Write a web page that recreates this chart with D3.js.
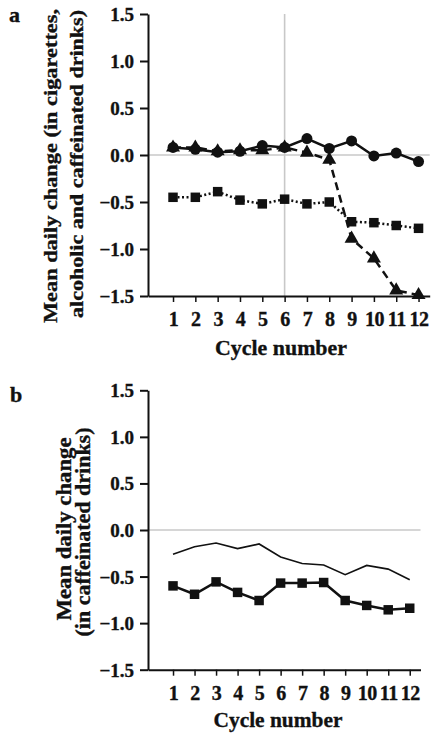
<!DOCTYPE html>
<html><head><meta charset="utf-8">
<script src="https://cdn.jsdelivr.net/npm/d3@7"></script>
<style>
body{margin:0;background:#fff;}
svg text{font-family:"Liberation Serif","Times New Roman",serif;font-weight:bold;fill:#111;stroke:#111;stroke-width:0.35px;}
</style></head>
<body><svg id="c" width="443" height="744"></svg>
<script>
const cycles = [1,2,3,4,5,6,7,8,9,10,11,12];
const yTicks = [-1.5,-1.0,-0.5,0.0,0.5,1.0,1.5];
// Panel a
const aCircles   = [0.08,0.06,0.03,0.04,0.10,0.08,0.175,0.07,0.15,-0.01,0.02,-0.07];
const aTriangles = [0.08,0.08,0.04,0.05,0.05,0.08,0.025,-0.05,-0.89,-1.10,-1.44,-1.49];
const aSquares   = [-0.45,-0.45,-0.39,-0.48,-0.52,-0.47,-0.52,-0.50,-0.71,-0.72,-0.75,-0.78];
// Panel b
const bLine    = [-0.26,-0.18,-0.14,-0.20,-0.15,-0.29,-0.36,-0.375,-0.48,-0.38,-0.42,-0.535];
const bSquares = [-0.60,-0.69,-0.557,-0.67,-0.757,-0.57,-0.57,-0.564,-0.757,-0.81,-0.857,-0.84];

const svg = d3.select("#c");

function panel(cfg){
  const g = svg.append("g");
  const x = d3.scaleLinear().domain(cfg.xDomain).range([148, cfg.xEnd]);
  const y = d3.scaleLinear().domain([-1.5,1.5]).range([cfg.yBottom, cfg.yTop]);
  // gray reference lines
  g.append("line").attr("x1",x.range()[0]).attr("x2",x.range()[1])
    .attr("y1",y(0)).attr("y2",y(0)).attr("stroke","#c8c8c8").attr("stroke-width",1.6);
  if(cfg.vline){
    g.append("line").attr("x1",x(cfg.vline)).attr("x2",x(cfg.vline))
      .attr("y1",y(1.5)).attr("y2",y(-1.5)).attr("stroke","#c8c8c8").attr("stroke-width",1.6);
  }
  // y axis
  const ya = g.append("g").attr("transform",`translate(148,0)`)
    .call(d3.axisLeft(y).tickValues(yTicks).tickFormat(d3.format(".1f")).tickSize(8).tickSizeOuter(0).tickPadding(6));
  ya.select(".domain").attr("stroke","#111").attr("stroke-width",2);
  ya.selectAll(".tick line").attr("stroke","#111").attr("stroke-width",2);
  ya.selectAll(".tick text").attr("font-size",19).attr("fill","#111")
    .attr("font-family","Liberation Serif").attr("font-weight","bold").attr("dy","0.34em");
  // x axis
  const xa = g.append("g").attr("transform",`translate(0,${cfg.yBottom})`)
    .call(d3.axisBottom(x).tickValues(cycles).tickFormat(d3.format("d")).tickSize(6).tickSizeOuter(0).tickPadding(10));
  xa.select(".domain").attr("stroke","#111").attr("stroke-width",2);
  xa.selectAll(".tick line").attr("stroke","#111").attr("stroke-width",1.5);
  xa.selectAll(".tick text").attr("font-size",20).attr("fill","#111")
    .attr("font-family","Liberation Serif").attr("font-weight","bold").attr("letter-spacing","-0.5px");
  // series
  cfg.series.forEach(s=>{
    const line = d3.line().x((d,i)=>x(cycles[i])).y(d=>y(d));
    g.append("path").attr("d",line(s.values)).attr("fill","none").attr("stroke","#111")
      .attr("stroke-width",s.width).attr("stroke-dasharray",s.dash||null);
    if(s.marker){
      const sym = {circle:d3.symbolCircle,square:d3.symbolSquare,triangle:d3.symbolTriangle}[s.marker];
      g.selectAll(null).data(s.values).enter().append("path")
        .attr("d",d3.symbol().type(sym).size(s.size))
        .attr("transform",(d,i)=>`translate(${x(cycles[i])},${y(d)})`)
        .attr("fill","#111");
    }
  });
  // x title
  g.append("text").attr("x",cfg.xTitleX).attr("y",cfg.xTitleY).attr("text-anchor","middle")
    .attr("font-size",22).attr("textLength",cfg.xTitleLen).attr("lengthAdjust","spacingAndGlyphs").text("Cycle number");
  // y titles
  cfg.yTitles.forEach(t=>{
    g.append("text").attr("transform",`translate(${t.x},${t.cy}) rotate(-90)`).attr("text-anchor","middle")
      .attr("font-size",cfg.yTitleSize).attr("textLength",t.len).attr("lengthAdjust","spacingAndGlyphs").text(t.text);
  });
  g.append("text").attr("x",cfg.letterX).attr("y",cfg.letterY).attr("font-size",22).text(cfg.letter);
}

panel({
  xDomain:[1-25/22.3,12.5], xEnd:429.7, yTop:14, yBottom:296, vline:6,
  series:[
    {values:aSquares, width:2.5, dash:"2,2.5", marker:"square", size:90},
    {values:aTriangles, width:2.5, dash:"8,5", marker:"triangle", size:85},
    {values:aCircles, width:2.5, marker:"circle", size:95}
  ],
  xTitleX:281, xTitleY:355, xTitleLen:132, yTitleSize:19.5,
  yTitles:[{x:56.5,cy:166,len:314,text:"Mean daily change (in cigarettes,"},
           {x:83,cy:164,len:308,text:"alcoholic and caffeinated drinks)"}],
  letter:"a", letterX:9, letterY:22
});
panel({
  xDomain:[1-25/21.5,12.5], xEnd:420.5, yTop:390.3, yBottom:669.7, vline:null,
  series:[
    {values:bLine, width:1.6},
    {values:bSquares, width:2.5, marker:"square", size:90}
  ],
  xTitleX:278, xTitleY:727, xTitleLen:129, yTitleSize:20,
  yTitles:[{x:70.5,cy:529,len:183,text:"Mean daily change"},
           {x:90,cy:532,len:209,text:"(in caffeinated drinks)"}],
  letter:"b", letterX:10, letterY:402
});
</script></body></html>
